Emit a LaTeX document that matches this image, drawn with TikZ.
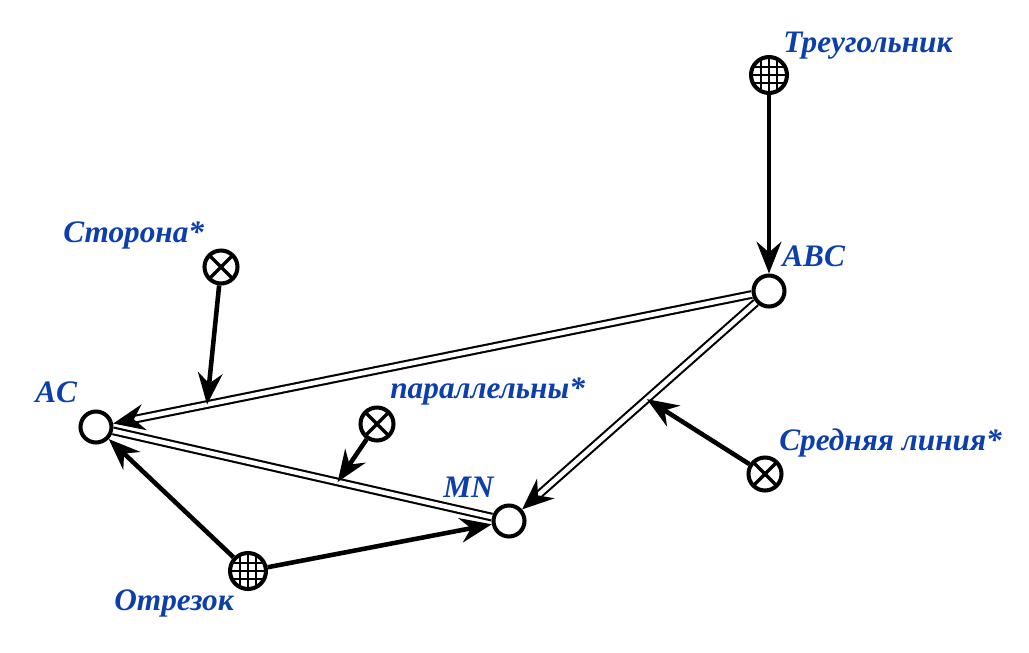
\documentclass[tikz,border=0pt]{standalone}
\usepackage{fontspec}
\setmainfont{Liberation Serif}
\usetikzlibrary{arrows.meta}
\definecolor{termblue}{RGB}{12,62,172}
\tikzstyle{concept}=[circle, draw, line width=2.3pt, minimum size=0.62cm, inner sep=0pt]
\tikzstyle{relation}=[concept, minimum size=0.66cm, path picture={
    \draw[line width=2pt] (path picture bounding box.north west) -- (path picture bounding box.south east);
    \draw[line width=2pt] (path picture bounding box.north east) -- (path picture bounding box.south west);}]
\tikzstyle{class}=[concept, minimum size=0.72cm, path picture={
    \foreach \k in {-1,0,1} {
      \draw[line width=1.15pt] ([xshift=\k*0.16cm]path picture bounding box.north) -- ([xshift=\k*0.16cm]path picture bounding box.south);
      \draw[line width=1.15pt] ([yshift=\k*0.16cm]path picture bounding box.west) -- ([yshift=\k*0.16cm]path picture bounding box.east);
    }}]
\tikzstyle{term}=[text=termblue, font=\fontsize{17.8}{21}\selectfont\bfseries\itshape, inner sep=0pt, anchor=base west]
\tikzstyle{link}=[line width=2.6pt, -{Stealth[length=18pt, width=14pt, inset=6pt]}]
\tikzstyle{side}=[double, line width=1.2pt, double distance=2.6pt]

\begin{document}
\begin{tikzpicture}[x=0.02cm, y=-0.02cm]
  \useasboundingbox (0, 0) rectangle (1029, 653);

  % points
  \node[class] (triangle) at (769, 75) {};
  \node[concept] (abc) at (769, 291) {};
  \node[relation] (side) at (221, 267) {};
  \node[concept] (ac) at (96, 427) {};
  \node[relation] (parallel) at (377, 424) {};
  \node[concept] (mn) at (509, 521) {};
  \node[relation] (midline) at (765, 474) {};
  \node[class] (segment) at (248, 571) {};

  % names
  \node[term] (triangle label) at (783, 52) {Треугольник};
  \node[term] (abc label) at (782, 266) {ABC};
  \node[term] (side label) at (63, 242) {Сторона*};
  \node[term] (ac label) at (35, 402) {AC};
  \node[term] (parallel label) at (390, 398) {параллельны*};
  \node[term] (mn label) at (443, 497) {MN};
  \node[term] (midline label) at (779, 450) {Средняя линия*};
  \node[term] (segment label) at (114, 610) {Отрезок};

  % sides
  \draw[side, -{Stealth[length=18pt, width=15pt, inset=6pt]}] (abc) -- (ac);
  \draw[side, -{Stealth[length=18pt, width=15pt, inset=6pt]}] (abc) -- (mn);
  \draw[side] (ac) -- (mn);
  \path (abc.center) -- coordinate[pos=0.835] (on abc ac) (ac.center);
  \path (abc.center) -- coordinate[pos=0.47] (on abc mn) (mn.center);
  \path (ac.center) -- coordinate[pos=0.585] (on ac mn) (mn.center);

  % arrows
  \draw[link] (triangle) -- (abc);
  \draw[link] (side) -- (on abc ac);
  \draw[link] (parallel) -- (on ac mn);
  \draw[link] (midline) -- (on abc mn);
  \draw[link] (segment) -- (ac);
  \draw[link] (segment) -- (mn);
\end{tikzpicture}
\end{document}
